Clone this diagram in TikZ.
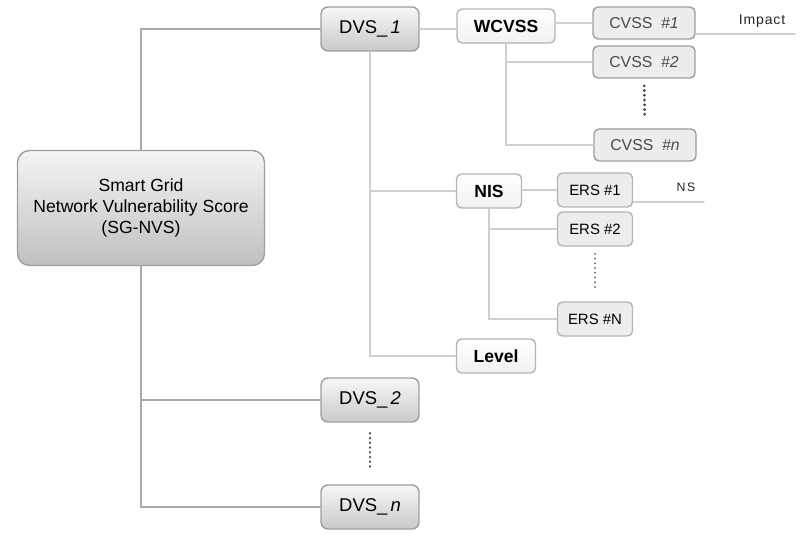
\documentclass[tikz,border=0pt]{standalone}
\usepackage{fontspec}
\setmainfont{Liberation Sans}
\usepackage{xcolor}
\usepackage{tikz}
\usetikzlibrary{calc}

\definecolor{trunkgray}{HTML}{A9A9A9}
\definecolor{linkgray}{HTML}{CFCFCF}
\definecolor{boxedge}{HTML}{9E9E9E}
\definecolor{lightedge}{HTML}{B4B4B4}
\definecolor{cvsstext}{HTML}{4A4A4A}

\begin{document}
\begin{tikzpicture}[
  x=0.02cm, y=-0.02cm,
  line cap=round,
  trunk/.style={draw=trunkgray, line width=1.1pt},
  link/.style={draw=linkgray, line width=0.8pt},
  dotline/.style={draw=black!75, line width=1.6pt, dash pattern=on 0.1pt off 2.6pt},
  rootbox/.style={draw=boxedge, line width=0.8pt, rounded corners=0.24cm,
    top color=gray!8, bottom color=gray!50, align=center,
    minimum width=4.94cm, minimum height=2.3cm, font=\fontsize{10}{12.2}\selectfont},
  dvsbox/.style={draw=boxedge, line width=0.8pt, rounded corners=0.14cm,
    top color=gray!6, bottom color=gray!42,
    minimum width=1.96cm, minimum height=0.88cm, font=\fontsize{10.5}{12}\selectfont},
  subbox/.style={draw=lightedge, line width=0.8pt, rounded corners=0.1cm,
    top color=white, bottom color=gray!10,
    minimum height=0.68cm, font=\bfseries\fontsize{10}{12}\selectfont},
  cvssbox/.style={draw=boxedge, line width=0.8pt, rounded corners=0.1cm,
    fill=gray!14, text=cvsstext,
    minimum width=2.04cm, minimum height=0.64cm, font=\fontsize{9}{11}\selectfont},
  ersbox/.style={draw=lightedge, line width=0.8pt, rounded corners=0.1cm,
    fill=gray!14, minimum width=1.5cm, minimum height=0.68cm,
    font=\fontsize{8.5}{10}\selectfont},
  tag/.style={font=\fontsize{8}{10}\selectfont, text=black!85}
]
\useasboundingbox (0,0) rectangle (800,536);

%========== root and DVS level ==========
\node[rootbox] (root) at (141,208) {Smart Grid\\Network Vulnerability Score\\(SG-NVS)};
\node[dvsbox] (dvs1) at (370,29) {DVS\_\,\textit{1}};
\node[dvsbox] (dvs2) at (370,400) {DVS\_\,\textit{2}};
\node[dvsbox] (dvsn) at (370,507) {DVS\_\,\textit{n}};
\draw[trunk] (root.north) |- (dvs1.west);
\draw[trunk] (root.south) |- (dvs2.west);
\draw[trunk] (root.south) |- (dvsn.west);
\draw[dotline, shorten <=6pt, shorten >=8pt] (dvs2) -- (dvsn);

%========== DVS_1 : WCVSS, NIS, Level ==========
\node[subbox, minimum width=1.96cm] (wcvss) at (506,26) {WCVSS};
\node[subbox, minimum width=1.3cm] (nis) at (489,191) {NIS};
\node[subbox, minimum width=1.58cm] (level) at (496,356) {Level};
\draw[link] (dvs1.east) -- (dvs1.east -| wcvss.west);
\draw[link] (dvs1.south) |- (nis.west);
\draw[link] (dvs1.south) |- (level.west);

%========== WCVSS : CVSS scores ==========
\node[cvssbox] (cvss1) at (644,23) {CVSS\ \ \textit{\#1}};
\node[cvssbox] (cvss2) at (644,62) {CVSS\ \ \textit{\#2}};
\node[cvssbox] (cvssn) at (645,145) {CVSS\ \ \textit{\#n}};
\draw[link] (wcvss.east |- cvss1.west) -- (cvss1.west);
\draw[link] (wcvss.south) |- (cvss2.west);
\draw[link] (wcvss.south) |- (cvssn.west);
\draw[dotline, shorten <=4pt, shorten >=7pt] (cvss2) -- (cvssn);
\coordinate (impend) at (795,34);
\node[tag, font=\fontsize{8}{10}\selectfont\addfontfeatures{LetterSpace=6}] (impact) at (762,21) {Impact};
\draw[link] (cvss1.east |- impend) -- (impend);

%========== NIS : ERS scores ==========
\node[ersbox] (ers1) at (595,190) {ERS \#1};
\node[ersbox] (ers2) at (595,229) {ERS \#2};
\node[ersbox] (ersN) at (595,319) {ERS \#N};
\draw[link] (nis.east |- ers1.west) -- (ers1.west);
\draw[link] (nis.south) |- (ers2.west);
\draw[link] (nis.south) |- (ersN.west);
\draw[dotline, draw=black!55, line width=1.1pt, shorten <=4pt, shorten >=8pt] (ers2) -- (ersN);
\coordinate (nsend) at (704,202);
\node[tag, font=\fontsize{7}{9}\selectfont\addfontfeatures{LetterSpace=12}] (ns) at (686,187) {NS};
\draw[link] (ers1.east |- nsend) -- (nsend);
\end{tikzpicture}
\end{document}
